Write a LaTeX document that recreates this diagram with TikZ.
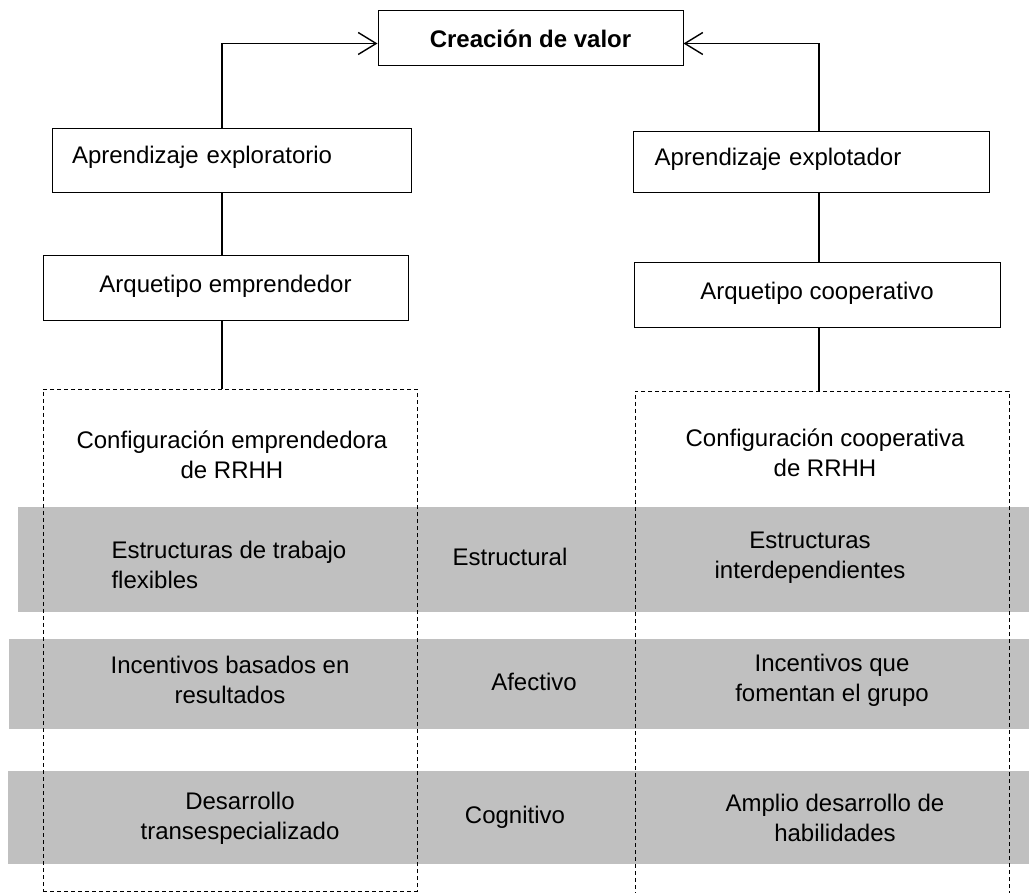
\documentclass[tikz,border=0pt]{standalone}
\usepackage{fontspec}
\setmainfont{Liberation Sans}
\usetikzlibrary{positioning,arrows.meta,calc}
\definecolor{banda}{RGB}{192,192,192}

\begin{document}
\begin{tikzpicture}[x=1pt,y=-1pt,
    every node/.style={font=\fontsize{24}{30}\selectfont},
    caja/.style={draw, line width=1pt, inner sep=0pt},
    marco/.style={draw, line width=0.8pt, dash pattern=on 4pt off 3pt, inner sep=0pt},
    linea/.style={line width=1.2pt},
    flecha/.style={line width=1.2pt, -{Straight Barb[length=18pt,width=22pt,line width=1.4pt]}},
    franja/.style={fill=banda, draw=none}]
    \useasboundingbox (0,0) rectangle (1029,893);

    % Gray bands
    \fill[franja] (18,507) rectangle (1029,612);
    \fill[franja] (9,639) rectangle (1029,729);
    \fill[franja] (8,771) rectangle (1029,864);

    % Top box
    \node[caja, minimum width=305pt, minimum height=55pt, font=\fontsize{24}{30}\selectfont\bfseries] (valor) at (530.5,38.5) {Creación de valor};

    % Left column
    \node[caja, minimum height=64pt, text width=319pt, inner xsep=20pt, align=left, text depth=12pt] (explor) at (231.5,161) {Aprendizaje exploratorio};
    \node[caja, minimum width=365pt, minimum height=65pt, text depth=10pt] (empr) at (225.5,288.5) {Arquetipo emprendedor};
    \node[marco, minimum width=374pt, minimum height=502pt] (confE) at (230,640) {};
    \node[align=center] (confEtxt) at (232,455) {Configuración emprendedora\\de RRHH};

    % Right column
    \node[caja, minimum height=61pt, text width=314pt, inner xsep=21pt, align=left, text depth=12pt] (explot) at (811.5,162.5) {Aprendizaje explotador};
    \node[caja, minimum width=366pt, minimum height=65pt, text depth=10pt] (coop) at (817,295.5) {Arquetipo cooperativo};
    \node[marco, minimum width=374pt, minimum height=508pt] (confC) at (822,645) {};
    \node[align=center] (confCtxt) at (825,453) {Configuración cooperativa\\de RRHH};

    % Connectors
    \coordinate (lx) at (222,0);
    \coordinate (rx) at (819,0);
    \draw[flecha] (explor.north -| lx) |- ([yshift=-5pt]valor.west);
    \draw[flecha] (explot.north -| rx) |- ([yshift=-5pt]valor.east);
    \draw[linea] (explor.south -| lx) -- (empr.north -| lx);
    \draw[linea] (explot.south -| rx) -- (coop.north -| rx);
    \draw[linea] (empr.south -| lx) -- (confE.north -| lx);
    \draw[linea] (coop.south -| rx) -- (confC.north -| rx);

    % Band texts
    \node[anchor=west, align=left] (flex) at (108,565) {Estructuras de trabajo\\flexibles};
    \node (estr) at (510,557) {Estructural};
    \node[align=center] (inter) at (810,558) {Estructuras\\interdependientes};

    \node[align=center] (result) at (230,680) {Incentivos basados en\\resultados};
    \node (afec) at (534,682) {Afectivo};
    \node[align=center] (grupo) at (832,680) {Incentivos que\\fomentan el grupo};

    \node[align=center] (trans) at (240,818) {Desarrollo\\transespecializado};
    \node (cogn) at (515,817) {Cognitivo};
    \node[align=center] (habil) at (835,818) {Amplio desarrollo de\\habilidades};
\end{tikzpicture}
\end{document}
